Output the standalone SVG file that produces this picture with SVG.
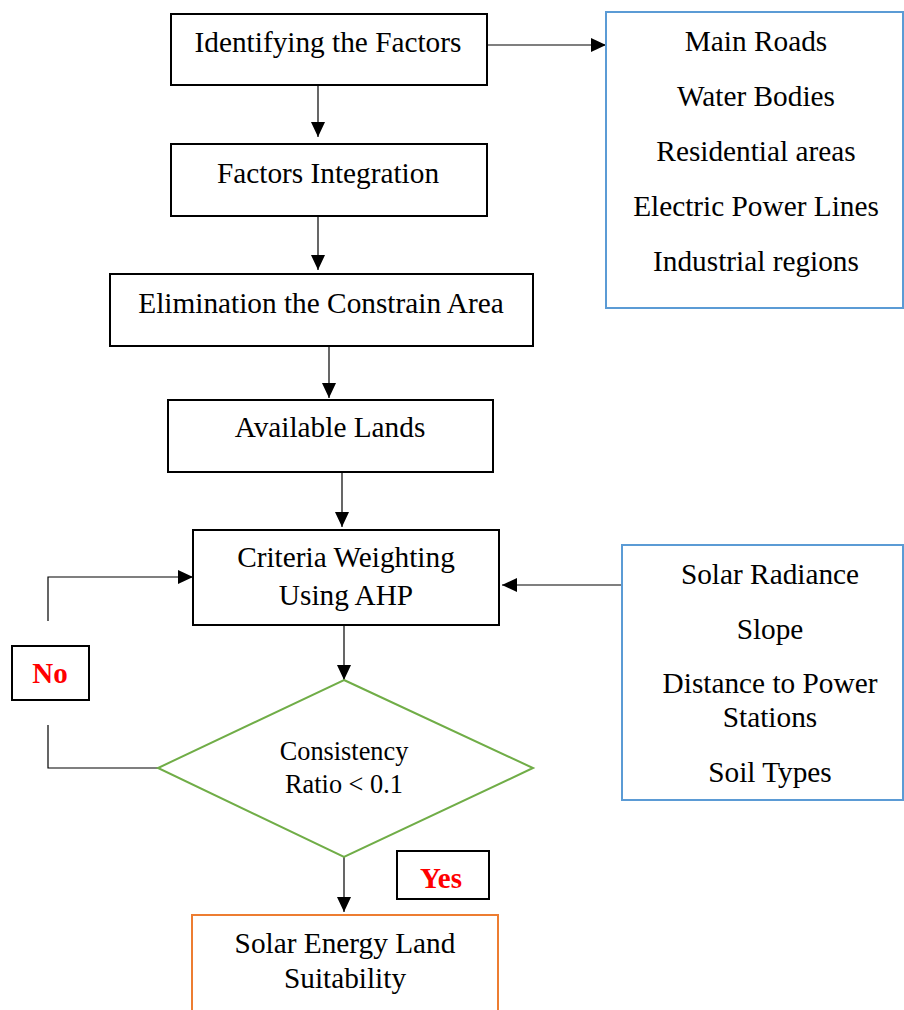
<svg xmlns="http://www.w3.org/2000/svg" width="904" height="1010" viewBox="0 0 904 1010">
<style>
.box{fill:#fff;stroke:#000;stroke-width:2}
.blue{fill:#fff;stroke:#5B9BD5;stroke-width:2}
.green{fill:#fff;stroke:#70AD47;stroke-width:2}
.orange{fill:#fff;stroke:#ED7D31;stroke-width:2}
.t{font-family:"Liberation Serif","Times New Roman",serif;font-size:29.3px;fill:#000;text-anchor:middle}
.s{font-family:"Liberation Serif","Times New Roman",serif;font-size:26.3px;fill:#000;text-anchor:middle}
.r{font-family:"Liberation Serif","Times New Roman",serif;font-size:29px;font-weight:bold;fill:#FF0000;text-anchor:middle}
.c{fill:none;stroke:#000;stroke-width:1.2}
</style>
<defs>
<marker id="ah" markerUnits="userSpaceOnUse" markerWidth="15" markerHeight="14" refX="15" refY="7" orient="auto">
<path d="M0,0 L15,7 L0,14 z" fill="#000"/>
</marker>
</defs>
<g id="connectors">
<line class="c" x1="318" y1="85" x2="318" y2="137" marker-end="url(#ah)"/>
<line class="c" x1="318" y1="216" x2="318" y2="270" marker-end="url(#ah)"/>
<line class="c" x1="329" y1="346" x2="329" y2="398" marker-end="url(#ah)"/>
<line class="c" x1="342" y1="472" x2="342" y2="527" marker-end="url(#ah)"/>
<line class="c" x1="487" y1="45" x2="606" y2="45" marker-end="url(#ah)"/>
<line class="c" x1="622" y1="585" x2="502" y2="585" marker-end="url(#ah)"/>
<line class="c" x1="344" y1="625" x2="344" y2="680" marker-end="url(#ah)"/>
<line class="c" x1="344" y1="857" x2="344" y2="912" marker-end="url(#ah)"/>
<polyline class="c" points="48,621 48,577 193,577" marker-end="url(#ah)"/>
<polyline class="c" points="158,768 48,768 48,725"/>
</g>
<g id="identifying">
<rect class="box" x="171" y="14" width="316" height="71"/>
<text class="t" x="328" y="52">Identifying the Factors</text>
</g>
<g id="integration">
<rect class="box" x="171" y="144" width="316" height="72"/>
<text class="t" x="328" y="183">Factors Integration</text>
</g>
<g id="elimination">
<rect class="box" x="110" y="274" width="423" height="72"/>
<text class="t" x="321" y="313">Elimination the Constrain Area</text>
</g>
<g id="available">
<rect class="box" x="168" y="400" width="325" height="72"/>
<text class="t" x="330" y="437">Available Lands</text>
</g>
<g id="constraints">
<rect class="blue" x="606" y="12" width="297" height="296"/>
<text class="t" x="756" y="51">Main Roads</text>
<text class="t" x="756" y="106">Water Bodies</text>
<text class="t" x="756" y="161">Residential areas</text>
<text class="t" x="756" y="216">Electric Power Lines</text>
<text class="t" x="756" y="271">Industrial regions</text>
</g>
<g id="criteria">
<rect class="box" x="193" y="530" width="306" height="95"/>
<text class="t" x="346" y="567">Criteria Weighting</text>
<text class="t" x="346" y="605">Using AHP</text>
</g>
<g id="factors">
<rect class="blue" x="622" y="545" width="281" height="255"/>
<text class="t" x="770" y="584">Solar Radiance</text>
<text class="t" x="770" y="639">Slope</text>
<text class="t" x="770" y="693">Distance to Power</text>
<text class="t" x="770" y="727">Stations</text>
<text class="t" x="770" y="782">Soil Types</text>
</g>
<g id="no">
<rect class="box" x="12" y="646" width="77" height="54"/>
<text class="r" x="50" y="683">No</text>
</g>
<g id="consistency">
<polygon class="green" points="344,680 533,768 344,857 158,768"/>
<text class="s" x="344" y="760">Consistency</text>
<text class="s" x="344" y="793">Ratio &lt; 0.1</text>
</g>
<g id="yes">
<rect class="box" x="397" y="851" width="92" height="48"/>
<text class="r" x="441" y="888">Yes</text>
</g>
<g id="suitability">
<rect class="orange" x="192" y="915" width="306" height="110"/>
<text class="t" x="345" y="953">Solar Energy Land</text>
<text class="t" x="345" y="988">Suitability</text>
</g>
</svg>
